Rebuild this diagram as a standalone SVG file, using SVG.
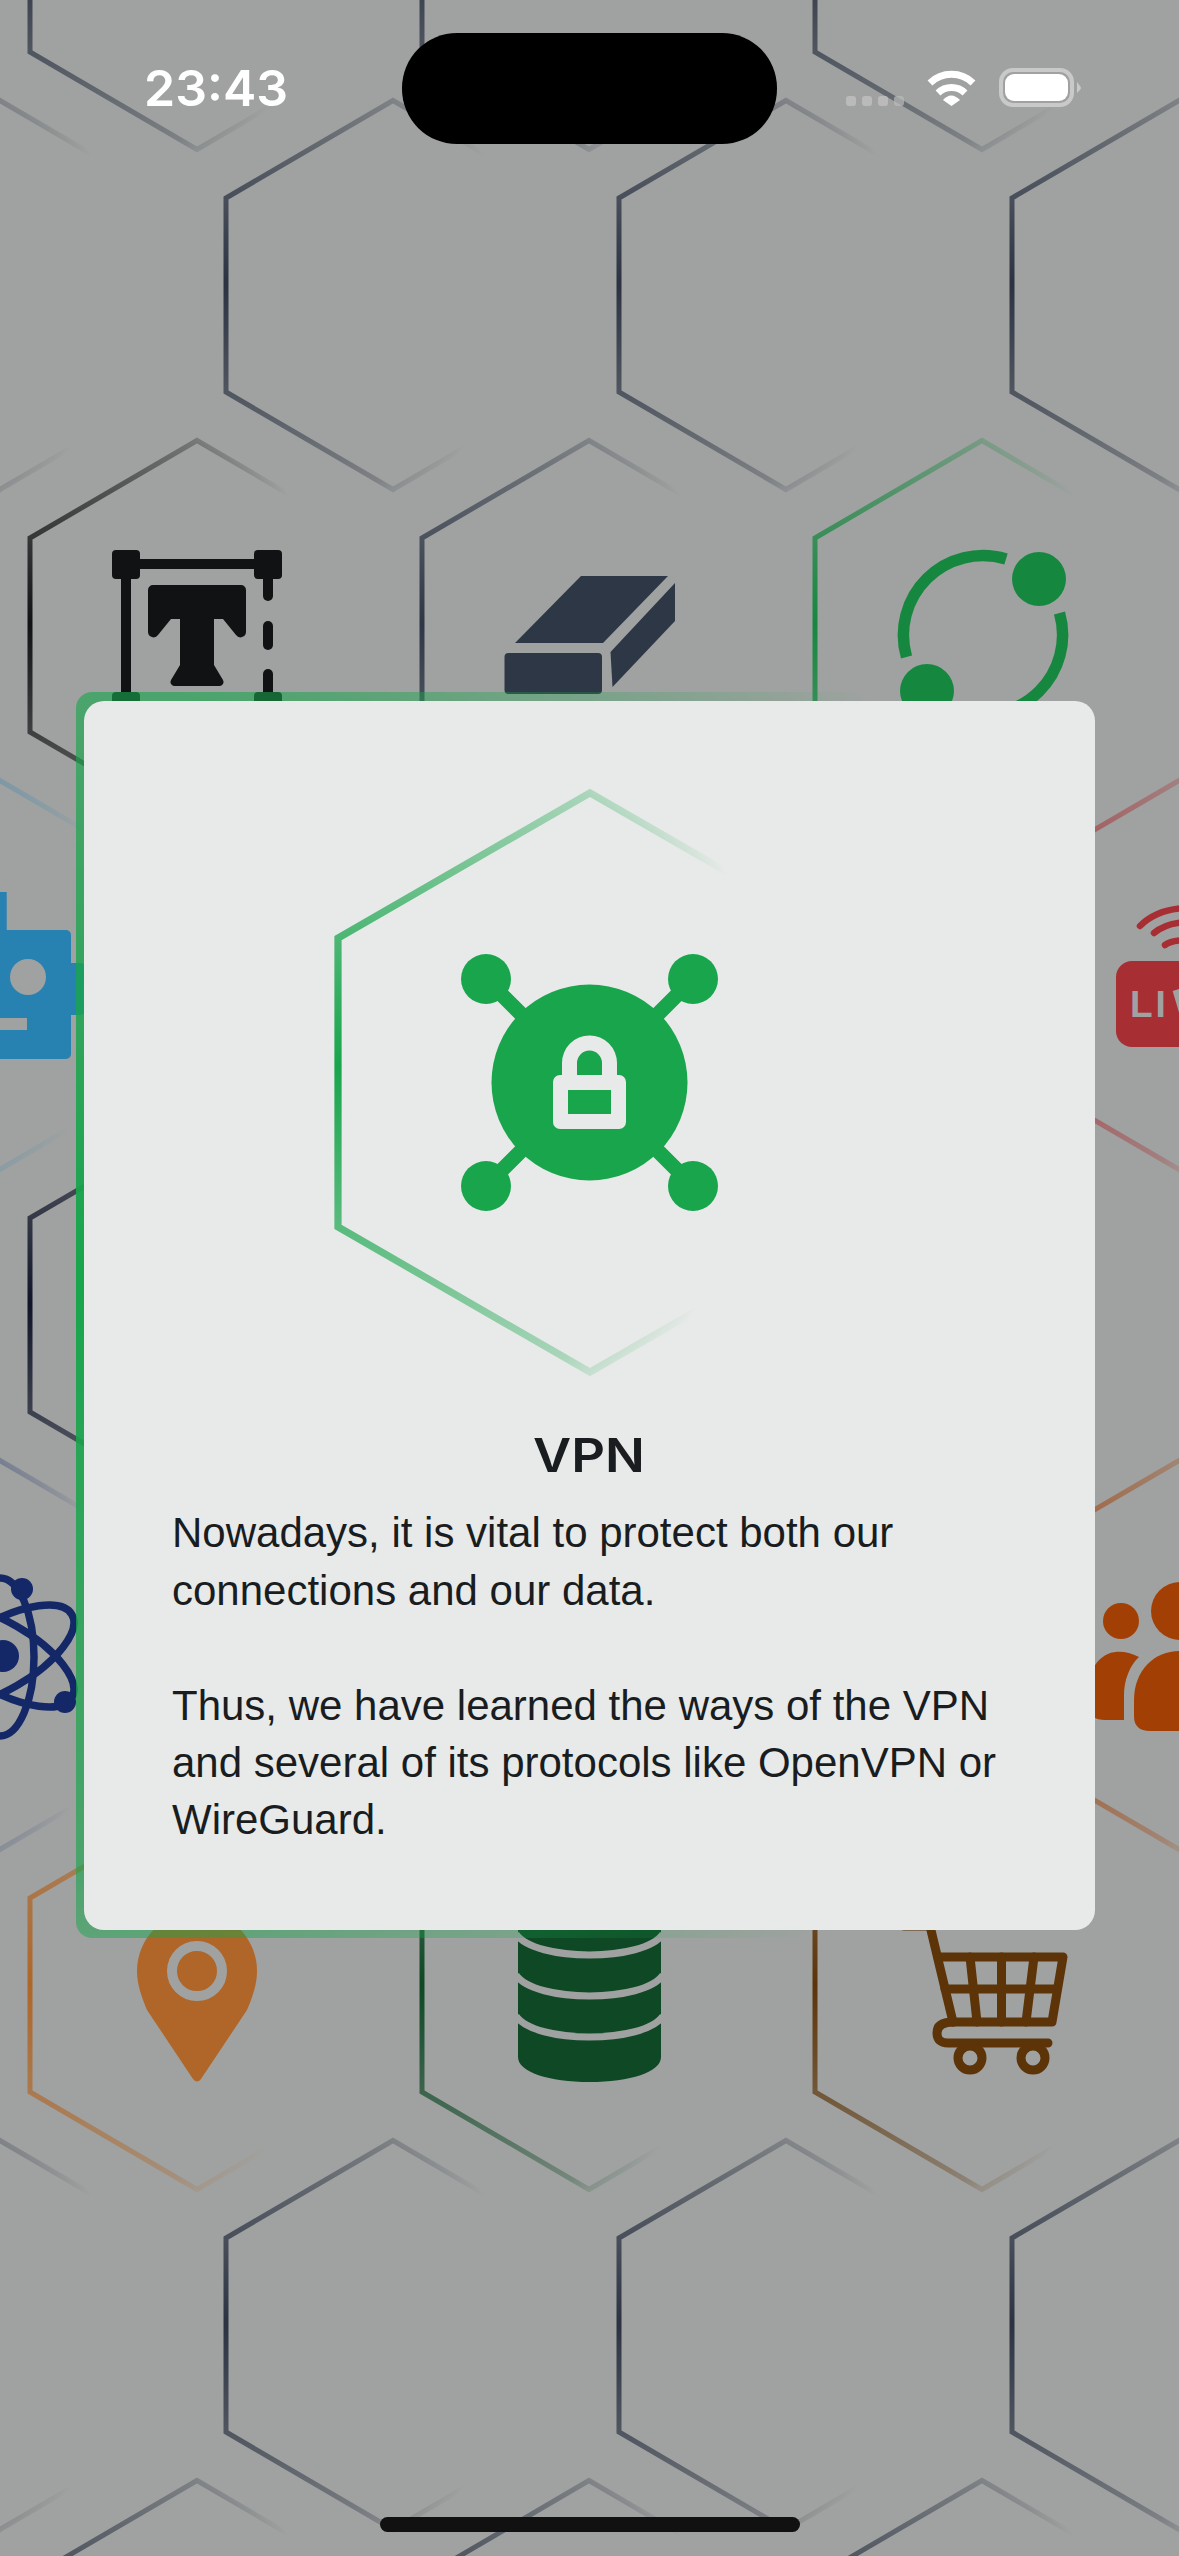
<svg xmlns="http://www.w3.org/2000/svg" width="1179" height="2556" viewBox="0 0 1179 2556">
<style>
.hx{fill:none;stroke-width:5;stroke-linejoin:miter}
.a{stop-opacity:1}.b{stop-opacity:.72}.c{stop-opacity:.3}.d{stop-opacity:0}
.bgc{fill:#a0a2a1}
.body{font-family:"Liberation Sans",Arial,sans-serif;font-size:42px;fill:#1a1d1f}
.cart{fill:none;stroke:#5c3408;stroke-width:9;stroke-linejoin:round;stroke-linecap:round}
.gap{fill:none;stroke:#a0a2a1;stroke-width:7}
</style>
<defs>
<radialGradient id="geo" gradientUnits="userSpaceOnUse" cx="-167" cy="-11" r="289"/>
<radialGradient id="gGray" href="#geo"><stop offset="0" class="a" stop-color="#2b3342"/><stop offset=".33" class="b" stop-color="#2b3342"/><stop offset=".85" class="c" stop-color="#2b3342"/><stop offset="1" class="d" stop-color="#2b3342"/></radialGradient>
<radialGradient id="gBlack" href="#geo"><stop offset="0" class="a" stop-color="#111214"/><stop offset=".33" class="b" stop-color="#111214"/><stop offset=".85" class="c" stop-color="#111214"/><stop offset="1" class="d" stop-color="#111214"/></radialGradient>
<radialGradient id="gSlate" href="#geo"><stop offset="0" class="a" stop-color="#2e3746"/><stop offset=".33" class="b" stop-color="#2e3746"/><stop offset=".85" class="c" stop-color="#2e3746"/><stop offset="1" class="d" stop-color="#2e3746"/></radialGradient>
<radialGradient id="gGreen" href="#geo"><stop offset="0" class="a" stop-color="#16873f"/><stop offset=".33" class="b" stop-color="#16873f"/><stop offset=".85" class="c" stop-color="#16873f"/><stop offset="1" class="d" stop-color="#16873f"/></radialGradient>
<radialGradient id="gBlue" href="#geo"><stop offset="0" class="a" stop-color="#2781b1"/><stop offset=".33" class="b" stop-color="#2781b1"/><stop offset=".85" class="c" stop-color="#2781b1"/><stop offset="1" class="d" stop-color="#2781b1"/></radialGradient>
<radialGradient id="gRed" href="#geo"><stop offset="0" class="a" stop-color="#a72e32"/><stop offset=".33" class="b" stop-color="#a72e32"/><stop offset=".85" class="c" stop-color="#a72e32"/><stop offset="1" class="d" stop-color="#a72e32"/></radialGradient>
<radialGradient id="gNight" href="#geo"><stop offset="0" class="a" stop-color="#0f1428"/><stop offset=".33" class="b" stop-color="#0f1428"/><stop offset=".85" class="c" stop-color="#0f1428"/><stop offset="1" class="d" stop-color="#0f1428"/></radialGradient>
<radialGradient id="gNavy" href="#geo"><stop offset="0" class="a" stop-color="#142868"/><stop offset=".33" class="b" stop-color="#142868"/><stop offset=".85" class="c" stop-color="#142868"/><stop offset="1" class="d" stop-color="#142868"/></radialGradient>
<radialGradient id="gRust" href="#geo"><stop offset="0" class="a" stop-color="#a23f05"/><stop offset=".33" class="b" stop-color="#a23f05"/><stop offset=".85" class="c" stop-color="#a23f05"/><stop offset="1" class="d" stop-color="#a23f05"/></radialGradient>
<radialGradient id="gOrange" href="#geo"><stop offset="0" class="a" stop-color="#af6628"/><stop offset=".33" class="b" stop-color="#af6628"/><stop offset=".85" class="c" stop-color="#af6628"/><stop offset="1" class="d" stop-color="#af6628"/></radialGradient>
<radialGradient id="gForest" href="#geo"><stop offset="0" class="a" stop-color="#0e4825"/><stop offset=".33" class="b" stop-color="#0e4825"/><stop offset=".85" class="c" stop-color="#0e4825"/><stop offset="1" class="d" stop-color="#0e4825"/></radialGradient>
<radialGradient id="gBrown" href="#geo"><stop offset="0" class="a" stop-color="#5c3408"/><stop offset=".33" class="b" stop-color="#5c3408"/><stop offset=".85" class="c" stop-color="#5c3408"/><stop offset="1" class="d" stop-color="#5c3408"/></radialGradient>
<radialGradient id="gModal" href="#geo"><stop offset="0" class="a" stop-color="#18a54c"/><stop offset=".33" class="b" stop-color="#18a54c"/><stop offset=".85" class="c" stop-color="#18a54c"/><stop offset="1" class="d" stop-color="#18a54c"/></radialGradient>
<radialGradient id="gBorder" gradientUnits="userSpaceOnUse" cx="76" cy="1280" r="990">
<stop offset="0" stop-color="#18a54c"/><stop offset=".3" stop-color="#18a54c" stop-opacity=".8"/><stop offset=".6" stop-color="#18a54c" stop-opacity=".62"/><stop offset=".73" stop-color="#18a54c" stop-opacity=".36"/><stop offset="1" stop-color="#18a54c" stop-opacity="0"/>
</radialGradient>
<path id="h" d="M0,-194.5 L-167,-97 L-167,97 L0,194.5 L167,97 L167,-97 Z"/>
</defs>
<rect id="background" width="1179" height="2556" fill="#a0a2a1"/>
<g id="hexagons" class="hx">
<use href="#h" transform="translate(197,-45)" stroke="url(#gGray)"/>
<use href="#h" transform="translate(589,-45)" stroke="url(#gGray)"/>
<use href="#h" transform="translate(982,-45)" stroke="url(#gGray)"/>
<use href="#h" transform="translate(0,295)" stroke="url(#gGray)"/>
<use href="#h" transform="translate(393,295)" stroke="url(#gGray)"/>
<use href="#h" transform="translate(786,295)" stroke="url(#gGray)"/>
<use href="#h" transform="translate(1179,295)" stroke="url(#gGray)"/>
<use href="#h" transform="translate(197,635)" stroke="url(#gBlack)"/>
<use href="#h" transform="translate(589,635)" stroke="url(#gSlate)"/>
<use href="#h" transform="translate(982,635)" stroke="url(#gGreen)"/>
<use href="#h" transform="translate(0,975)" stroke="url(#gBlue)"/>
<use href="#h" transform="translate(1179,975)" stroke="url(#gRed)"/>
<use href="#h" transform="translate(197,1315)" stroke="url(#gNight)"/>
<use href="#h" transform="translate(0,1655)" stroke="url(#gNavy)"/>
<use href="#h" transform="translate(1179,1655)" stroke="url(#gRust)"/>
<use href="#h" transform="translate(197,1995)" stroke="url(#gOrange)"/>
<use href="#h" transform="translate(589,1995)" stroke="url(#gForest)"/>
<use href="#h" transform="translate(982,1995)" stroke="url(#gBrown)"/>
<use href="#h" transform="translate(0,2335)" stroke="url(#gGray)"/>
<use href="#h" transform="translate(393,2335)" stroke="url(#gGray)"/>
<use href="#h" transform="translate(786,2335)" stroke="url(#gGray)"/>
<use href="#h" transform="translate(1179,2335)" stroke="url(#gGray)"/>
<use href="#h" transform="translate(197,2675)" stroke="url(#gGray)"/>
<use href="#h" transform="translate(589,2675)" stroke="url(#gGray)"/>
<use href="#h" transform="translate(982,2675)" stroke="url(#gGray)"/>
</g>
<g id="icon-text" fill="#111214">
<rect x="112" y="550" width="28" height="29" rx="4"/><rect x="254" y="550" width="28" height="29" rx="4"/>
<rect x="112" y="692" width="28" height="29" rx="4"/><rect x="254" y="692" width="28" height="29" rx="4"/>
<rect x="140" y="559" width="114" height="10"/><rect x="121" y="579" width="10" height="113"/>
<path d="M263,579h10v17a5,5 0 0 1 -10,0z"/><rect x="263" y="621" width="10" height="29" rx="5"/><path d="M263,674a5,5 0 0 1 10,0v18h-10z"/>
<path d="M153,585H241a5,5 0 0 1 5,5V632a5.5,5.5 0 0 1 -10,3L223,619H214V665L223,680a4,4 0 0 1 -3,6H174a4,4 0 0 1 -3,-6L180,665V619H171L158,635a5.5,5.5 0 0 1 -10,-3V590a5,5 0 0 1 5,-5Z"/>
</g>
<g id="icon-eraser" fill="#2e3746">
<path d="M581,576H668L603,643H515Z"/><path d="M675,583V621L612.5,687L610.5,652Z"/>
<rect x="504.5" y="653" width="97.5" height="41" rx="4"/>
</g>
<g id="icon-ring" fill="#16873f">
<path d="M1006,559A79.5,79.5 0 0 0 906.5,657M1059.5,613A79.5,79.5 0 0 1 960,711" fill="none" stroke="#16873f" stroke-width="11.5"/>
<circle cx="1039" cy="579" r="27"/><circle cx="927" cy="691" r="27"/>
</g>
<g id="icon-blue" fill="#2781b1">
<rect x="-30" y="892" width="36.7" height="60"/>
<rect x="-30" y="930" width="101" height="129" rx="5"/>
<rect x="50" y="963" width="35" height="52" rx="5"/>
<circle cx="28" cy="977" r="18" class="bgc"/><rect x="-1" y="1018" width="28" height="12" class="bgc"/>
</g>
<g id="icon-live" fill="#a72e32">
<rect x="1116" y="961" width="120" height="86" rx="16"/>
<path d="M1140,926Q1158,908 1190,908M1154,933Q1167,922 1190,922M1165,945Q1172,940 1190,940" fill="none" stroke="#a72e32" stroke-width="6.5" stroke-linecap="round"/>
<text x="1130" y="1017" font-family="'Liberation Sans',Arial,sans-serif" font-weight="700" font-size="37" letter-spacing="3" fill="#a0a2a1">LI</text>
<path d="M1176,990L1184,1017" fill="none" stroke="#a0a2a1" stroke-width="7"/>
</g>
<g id="icon-atom">
<circle cx="3" cy="1656" r="16" fill="#142868"/>
<g fill="none" stroke="#142868" stroke-width="7.5">
<ellipse cx="0" cy="1657" rx="34" ry="79"/>
<ellipse cx="0" cy="1656" rx="34" ry="83" transform="rotate(60 0 1656)"/>
<ellipse cx="0" cy="1656" rx="34" ry="83" transform="rotate(-60 0 1656)"/>
</g>
<circle cx="22" cy="1589" r="11" fill="#142868"/><circle cx="65" cy="1702" r="11" fill="#142868"/>
</g>
<g id="icon-people" fill="#a23f05">
<circle cx="1121" cy="1621" r="18"/><circle cx="1180" cy="1611" r="29"/>
<path d="M1139,1657C1118,1647 1098,1650 1088,1680V1708Q1090,1720 1105,1720H1124V1695C1124,1680 1130,1665 1139,1657Z"/>
<path d="M1179,1651C1155,1651 1134,1670 1134,1700V1716Q1134,1731 1150,1731H1179Z"/>
</g>
<g id="icon-pin">
<path d="M197,1911C230,1911 257,1938 257,1971C257,1985 252,1998 247,2010L201,2079Q197,2084 193,2079L147,2010C142,1998 137,1985 137,1971C137,1938 164,1911 197,1911Z" fill="#af6628"/>
<circle cx="197" cy="1971" r="25" fill="#af6628" stroke="#a0a2a1" stroke-width="10"/>
</g>
<g id="icon-db">
<path d="M518,1920H661V2057C661,2072 630,2082 589.5,2082C549,2082 518,2072 518,2057Z" fill="#0e4825"/>
<path class="gap" d="M516,1934C535,1962 644,1962 663,1934M516,1975C535,2003 644,2003 663,1975M516,2016C535,2044 644,2044 663,2016"/>
</g>
<g id="icon-cart" class="cart">
<path d="M904,1926H930L953,2022"/>
<path d="M938,1957H1063L1052,2022H953"/>
<path d="M945,1989H1057M970,1957L977,2022M1001.5,1957V2022M1034,1957L1026,2022"/>
<path d="M953,2022Q937,2022 937,2033Q937,2043 948,2043H1048"/>
<circle cx="970" cy="2058" r="12"/><circle cx="1033" cy="2058" r="12"/>
</g>
<rect id="card-glow" x="76" y="692" width="1020" height="1246" rx="16" fill="url(#gBorder)"/>
<g id="card">
<rect x="84" y="701" width="1011" height="1229" rx="20" fill="#e8eae9"/>
<g id="vpn-hexagon"><use href="#h" transform="translate(590,1082.5) scale(1.509,1.489)" fill="none" stroke="url(#gModal)" stroke-width="4.8"/></g>
<g id="vpn-icon" fill="#18a54c">
<path d="M486,979L693,1186M693,979L486,1186" stroke="#18a54c" stroke-width="15" fill="none"/>
<circle cx="589.5" cy="1082.5" r="98"/>
<circle cx="486" cy="979" r="25"/><circle cx="693" cy="979" r="25"/><circle cx="486" cy="1186" r="25"/><circle cx="693" cy="1186" r="25"/>
<path fill="#e8eae9" fill-rule="evenodd" d="M562,1075V1063a27.5,27.5 0 0 1 55,0V1075H619a7,7 0 0 1 7,7V1122a7,7 0 0 1 -7,7H560a7,7 0 0 1 -7,-7V1082a7,7 0 0 1 7,-7ZM577,1075H602V1063a12.5,12.5 0 0 0 -25,0ZM568,1090V1114H611V1090Z"/>
</g>
<text id="title" transform="translate(589,1472) scale(1.14,1)" text-anchor="middle" font-family="Inter,'Liberation Sans',sans-serif" font-weight="600" font-size="46" fill="#1a1d1f">VPN</text>
<g id="description" class="body">
<text x="172" y="1547">Nowadays, it is vital to protect both our</text>
<text x="172" y="1605">connections and our data.</text>
<text x="172" y="1720">Thus, we have learned the ways of the VPN</text>
<text x="172" y="1777">and several of its protocols like OpenVPN or</text>
<text x="172" y="1834">WireGuard.</text>
</g>
</g>
<g id="status-bar">
<text x="144" y="106" font-family="Inter,'Liberation Sans',sans-serif" font-weight="600" font-size="50" fill="#ffffff">23:43</text>
<rect x="402" y="33" width="375" height="111" rx="55" fill="#000"/>
<g fill="#b9bab9"><rect x="846" y="96" width="10" height="10" rx="3"/><rect x="862" y="96" width="10" height="10" rx="3"/><rect x="878" y="96" width="10" height="10" rx="3"/><rect x="894" y="96" width="10" height="10" rx="3" opacity=".7"/></g>
<g id="wifi"><path d="M930,83A31,31 0 0 1 973,83M938,93A19.5,19.5 0 0 1 965,93" fill="none" stroke="#fff" stroke-width="7"/><path d="M943,100Q951,91 960,100L951.5,106Z" fill="#fff"/></g>
<g id="battery"><rect x="1001" y="70" width="71" height="35" rx="12" fill="none" stroke="#c8c9c8" stroke-width="4"/><rect x="1005" y="74" width="63" height="27" rx="9" fill="#fff"/><path d="M1077,82Q1081,87 1081,88Q1081,89 1077,93Z" fill="#c8c9c8"/></g>
</g>
<rect id="home-indicator" x="380" y="2517" width="420" height="15" rx="7.5" fill="#111"/>
</svg>
